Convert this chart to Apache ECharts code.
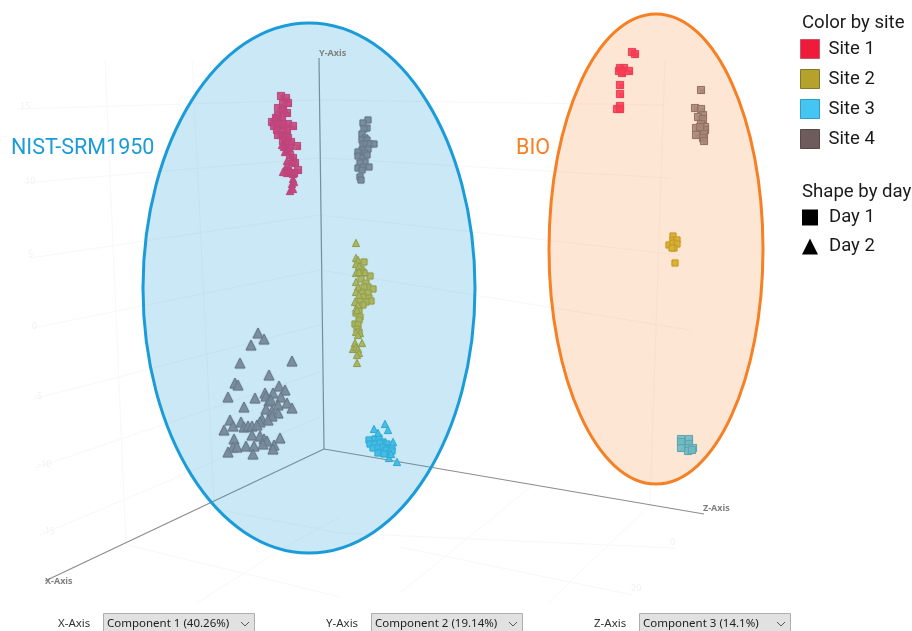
<!DOCTYPE html>
<html>
<head>
<meta charset="utf-8">
<style>html,body{margin:0;padding:0;background:#fff}#main{width:912px;height:631px}</style>
<script src="https://cdn.jsdelivr.net/npm/echarts@6/dist/echarts.min.js"></script>
</head>
<body>
<div id="main"></div>
<script>
var site1Day1 = [[281,96],[286,98],[288,103],[283,104],[278,108],[283,110],[287,113],[278,116],[282,117],[272,122],[276,118],[274,126],[279,124],[283,125],[288,124],[293,126],[277,130],[278,135],[283,132],[287,130],[283,136],[286,138],[288,138],[283,141],[291,142],[286,144],[297,146],[289,148],[287,151],[290,155],[293,158],[295,163],[298,170],[294,173],[288,171]];
var site1Day2 = [[282,145],[284,147],[285,152],[287,161],[292,162],[286,167],[289,168],[283,172],[287,173],[291,172],[293,174],[293,179],[292,184],[294,182],[290,191],[293,189],[275,117],[285,110]];
var site2Day1 = [[364,262],[361,269],[364,273],[370,276],[361,279],[366,283],[368,287],[373,289],[364,287],[368,293],[361,292],[363,297],[369,298],[371,301],[366,302],[360,301],[363,305],[358,306],[359,310],[356,313],[360,317],[359,320],[355,324],[358,325],[357,329],[359,332]];
var site2Day2 = [[356,243],[356,258],[358,260],[356,264],[359,266],[356,273],[359,272],[365,272],[356,282],[358,287],[356,292],[359,295],[355,302],[358,305],[357,310],[360,333],[356,332],[358,335],[355,343],[362,343],[353,349],[356,347],[358,349],[359,353],[357,355],[357,363]];
var site3Day1 = [[369,440],[375,439],[379,438],[383,442],[370,444],[375,444],[380,443],[387,444],[373,448],[378,448],[383,447],[388,448],[392,448],[380,452],[386,450],[390,453],[378,453],[384,454],[392,451]];
var site3Day2 = [[385,424],[374,429],[378,433],[388,430],[393,442],[389,458],[397,462],[391,454]];
var site4Day1 = [[368,120],[363,123],[367,128],[364,129],[362,134],[365,138],[362,140],[367,140],[363,144],[366,144],[370,144],[374,144],[368,149],[362,150],[358,152],[365,153],[358,156],[363,158],[367,155],[365,162],[360,163],[358,168],[369,167],[363,167],[362,170],[360,177],[361,180]];
var site4Day2 = [[258,333],[264,339],[251,345],[240,363],[292,361],[269,375],[235,383],[238,385],[228,397],[255,398],[279,386],[285,390],[273,393],[265,393],[266,396],[281,397],[269,401],[271,400],[244,407],[278,405],[287,403],[292,408],[266,409],[272,411],[278,413],[272,416],[262,419],[268,420],[260,422],[230,420],[233,426],[224,430],[241,422],[244,427],[248,426],[252,426],[257,425],[252,435],[260,436],[264,439],[280,438],[267,441],[263,444],[274,445],[273,449],[234,439],[233,447],[237,447],[246,446],[254,446],[228,452],[253,454]];
var bioSite1 = [[632,52],[635,54],[620,68],[624,68],[619,71],[622,73],[629,71],[620,85],[620,94],[620,106],[617,109],[620,109],[622,71]];
var bioSite2 = [[673,236],[673,240],[677,240],[669,245],[673,243],[677,244],[674,248],[672,248],[675,263]];
var bioSite3 = [[681,439],[681,442],[681,448],[689,439],[689,444],[689,448],[693,448],[688,451],[692,450]];
var bioSite4 = [[701,90],[695,108],[701,109],[703,115],[698,117],[703,119],[701,124],[705,127],[696,128],[705,130],[704,134],[696,135],[703,138],[704,141],[700,127]];

var siteNames = ['Site 1', 'Site 2', 'Site 3', 'Site 4'];
var dayNames = ['Day 1', 'Day 2'];
var siteColors = ['#fb2a5c', '#d8bc34', '#4cc8ee', '#94868a'];
var siteBorders = ['#e0306a', '#a8982a', '#34a8c8', '#75686c'];
var legendColors = ['#ee1c3a', '#b5a22c', '#45c6f2', '#6e5c5c'];
var legendBorders = ['#c9566a', '#85772a', '#2d9ec4', '#574848'];

var axisLines = [
    [[319,58],[324,449]],
    [[324,449],[45,581]],
    [[324,449],[704,514]]
];
var gridLines = [
    [[17,109],[320,100],[665,105]],
    [[23,183],[320,158],[670,178]],
    [[30,258],[320,215],[680,255]],
    [[33,328],[320,270],[690,330]],
    [[33,399],[320,325]],
    [[35,468],[320,372]],
    [[40,535],[320,417]],
    [[105,60],[126,545]],
    [[192,60],[214,503]],
    [[665,60],[650,505]],
    [[128,545],[340,597]],
    [[220,510],[340,533],[675,548]],
    [[400,547],[633,595]],
    [[548,603],[650,505]],
    [[197,603],[280,550],[340,517]],
    [[400,593],[533,485]]
];
var ellipses = [[309,288,166,265],[656,249,107,235]];

function pts(name, data, symbol, size, idx) {
    return {
        name: name, type: 'scatter', data: data, symbol: symbol, symbolSize: size, z: 3,
        itemStyle: { color: siteColors[idx], borderColor: siteBorders[idx], borderWidth: 1, opacity: 0.8,
            shadowBlur: 1, shadowColor: siteColors[idx] },
        silent: true
    };
}

var series = [];
gridLines.forEach(function (l) {
    series.push({ type: 'line', data: l, symbol: 'none', silent: true, z: 1, lineStyle: { color: '#f8f8f8', width: 1 } });
});
axisLines.forEach(function (l) {
    series.push({ type: 'line', data: l, symbol: 'none', silent: true, z: 2, lineStyle: { color: '#8c8c8c', width: 1.2 } });
});
series.push(
    pts('Site 1', site1Day1, 'rect', 7, 0),
    pts('Site 1', site1Day2, 'triangle', 7, 0),
    pts('Site 2', site2Day1, 'rect', 6, 1),
    pts('Site 2', site2Day2, 'triangle', 7, 1),
    pts('Site 3', site3Day1, 'rect', 6, 2),
    pts('Site 3', site3Day2, 'triangle', 7, 2),
    pts('Site 4', site4Day1, 'rect', 6, 3),
    pts('Site 4', site4Day2, 'triangle', 10, 3),
    pts('Site 1', bioSite1, 'rect', 7, 0),
    pts('Site 2', bioSite2, 'rect', 6, 1),
    pts('Site 3', bioSite3, 'rect', 7, 2),
    pts('Site 4', bioSite4, 'rect', 7, 3),
    { name: 'Day 1', type: 'scatter', data: [], symbol: 'rect', itemStyle: { color: '#000' } },
    { name: 'Day 2', type: 'scatter', data: [], symbol: 'triangle', itemStyle: { color: '#000' } }
);
// ellipses sit on top of the marks, the fill tints them
series.push({
    type: 'custom', data: ellipses, z: 5, silent: true, clip: false,
    renderItem: function (params, api) {
        var c = api.coord([api.value(0), api.value(1)]);
        var s = api.size([api.value(2), api.value(3)]);
        var blue = params.dataIndex === 0;
        return {
            type: 'ellipse',
            shape: { cx: c[0], cy: c[1], rx: s[0], ry: s[1] },
            style: {
                fill: blue ? 'rgba(27,156,217,0.23)' : 'rgba(245,128,37,0.2)',
                stroke: blue ? '#1b9cd9' : '#f58025',
                lineWidth: 3
            }
        };
    }
});

function txt(x, y, s, size, color, extra) {
    var st = { x: x, y: y, text: s, fontSize: size, fontFamily: 'Roboto', fill: color, textVerticalAlign: 'middle', verticalAlign: 'middle' };
    for (var k in extra) st[k] = extra[k];
    return { type: 'text', z: 10, style: st, silent: true };
}

var graphics = [
    txt(11, 149, 'NIST-SRM1950', 21.5, '#1b9cd9'),
    txt(516, 149, 'BIO', 21.5, '#f58025'),
    txt(802, 23, 'Color by site', 18.6, '#1a1a1a'),
    txt(802, 192, 'Shape by day', 18.6, '#1a1a1a'),
    txt(319, 53, 'Y-Axis', 9, '#808080', { fontWeight: 'bold', fontFamily: 'Noto Sans' }),
    txt(45, 581, 'X-Axis', 9, '#808080', { fontWeight: 'bold', fontFamily: 'Noto Sans' }),
    txt(703, 508, 'Z-Axis', 9, '#808080', { fontWeight: 'bold', fontFamily: 'Noto Sans' })
];
var tickLabels = [[20,106,'15'],[25,181,'10'],[28,254,'5'],[32,326,'0'],[34,396,'-5'],[38,464,'-10'],[42,531,'-15'],[670,542,'0'],[631,588,'20']];
tickLabels.forEach(function (t) {
    graphics.push(txt(t[0], t[1], t[2], 9, '#f1f1f1', { fontFamily: 'Noto Sans' }));
});
var dropdowns = [
    [58, 103, 'X-Axis', 'Component 1 (40.26%)'],
    [326, 371, 'Y-Axis', 'Component 2 (19.14%)'],
    [594, 639, 'Z-Axis', 'Component 3 (14.1%)']
];
dropdowns.forEach(function (d) {
    graphics.push(txt(d[0], 624, d[2], 11.5, '#333', { fontFamily: 'Noto Sans' }));
    graphics.push({ type: 'rect', z: 9, silent: true, shape: { x: d[1] + 0.5, y: 613.5, width: 151, height: 20 }, style: { fill: '#e1e1e1', stroke: '#adadad', lineWidth: 1 } });
    graphics.push(txt(d[1] + 4, 624, d[3], 11.5, '#222', { fontFamily: 'Noto Sans' }));
    graphics.push({ type: 'polyline', z: 10, silent: true, shape: { points: [[d[1] + 138, 622], [d[1] + 142, 626], [d[1] + 146, 622]] }, style: { stroke: '#555', lineWidth: 1, fill: 'none' } });
});

var myChart = echarts.init(document.getElementById('main'));
myChart.setOption({
    animation: false,
    backgroundColor: '#fff',
    grid: { left: 0, right: 0, top: 0, bottom: 0 },
    xAxis: { type: 'value', min: 0, max: 912, show: false },
    yAxis: { type: 'value', min: 0, max: 631, inverse: true, show: false },
    legend: [{
        left: 800, top: 39, orient: 'vertical', padding: 0, itemWidth: 19, itemHeight: 19, itemGap: 10,
        selectedMode: false,
        textStyle: { fontFamily: 'Roboto', fontSize: 18.5, color: '#1a1a1a', padding: [0, 0, 0, 4] },
        data: siteNames.map(function (n, i) {
            return { name: n, icon: 'rect', itemStyle: { color: legendColors[i], borderColor: legendBorders[i], borderWidth: 1, opacity: 1 } };
        })
    }, {
        left: 802, top: 208, orient: 'vertical', padding: 0, itemWidth: 16, itemHeight: 16, itemGap: 10,
        selectedMode: false,
        textStyle: { fontFamily: 'Roboto', fontSize: 18.5, color: '#1a1a1a', padding: [0, 0, 0, 6] },
        data: dayNames.map(function (n, i) {
            return { name: n, icon: i === 0 ? 'rect' : 'triangle', itemStyle: { color: '#000', borderWidth: 0, opacity: 1 } };
        })
    }],
    tooltip: { show: false },
    graphic: graphics,
    series: series
});
</script>
</body>
</html>
